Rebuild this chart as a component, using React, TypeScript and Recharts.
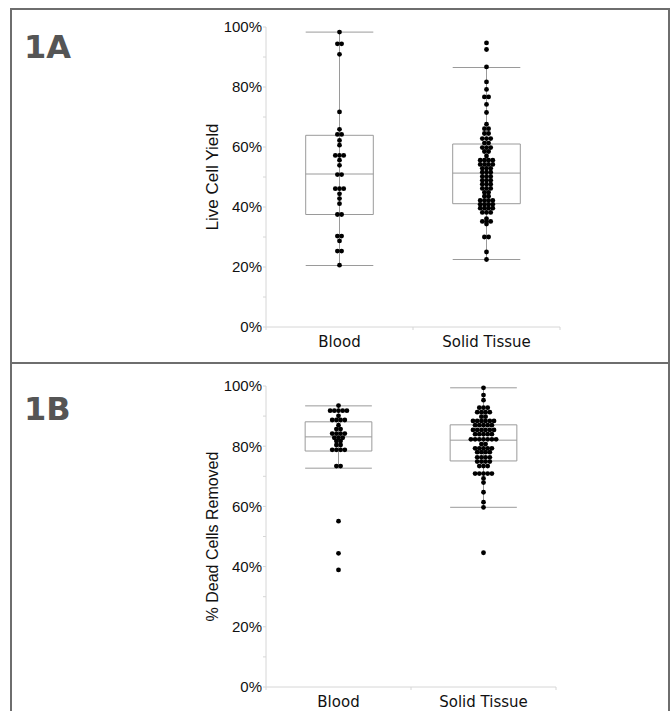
import React from "react";
import {
  ComposedChart,
  ReferenceArea,
  ReferenceLine,
  Scatter,
  XAxis,
  YAxis,
} from "recharts";

const categories = ["Blood", "Solid Tissue"];
const yTicks = [0, 10, 20, 30, 40, 50, 60, 70, 80, 90, 100];

// 1A — live cell yield (%), one entry per dot
const yieldBlood = [
  98.3, 94.4, 94.4, 90.9, 71.7, 65.9, 64.2, 64.2, 62.2, 60.6, 57.2, 57.2, 57.2,
  55.6, 53.9, 50.8, 50.8, 46.1, 46.1, 46.1, 44.4, 42.8, 41.1, 37.5, 37.5, 30.3,
  30.3, 28.7, 25.3, 25.3, 20.6,
];
const yieldTissue = [
  94.7, 92.5, 86.7, 81.7, 79.2, 76.7, 76.7, 74.2, 71.5, 67.6, 66.1, 66.1, 64.5,
  64.5, 62.8, 62.8, 62.8, 61.3, 61.3, 59.8, 59.8, 59.8, 58.5, 58.5, 57.0, 55.6,
  55.6, 55.6, 55.6, 54.2, 54.2, 54.2, 54.2, 52.9, 52.9, 52.9, 51.6, 51.6, 51.6,
  50.2, 50.2, 50.2, 48.9, 48.9, 48.9, 47.6, 47.6, 47.6, 46.2, 46.2, 46.2, 44.9,
  44.9, 43.6, 43.6, 42.2, 42.2, 42.2, 42.2, 40.9, 40.9, 40.9, 40.9, 39.6, 39.6,
  39.6, 39.6, 38.2, 38.2, 38.2, 36.1, 35.2, 35.2, 35.2, 34.3, 30.0, 30.0, 25.0,
  22.5,
];
// [whisker low, q1, median, q3, whisker high]
const yieldBloodBox = [20.5, 37.5, 51.0, 63.9, 98.3];
const yieldTissueBox = [22.5, 41.1, 51.3, 61.0, 86.5];

// 1B — % dead cells removed
const removedBlood = [
  93.5, 91.8, 91.8, 91.8, 91.8, 91.8, 90.1, 88.7, 88.7, 88.7, 88.7, 87.0, 85.7,
  85.7, 84.2, 84.2, 84.2, 84.2, 82.8, 82.8, 82.8, 81.7, 81.7, 80.4, 80.4, 78.8,
  78.8, 78.8, 78.8, 73.4, 73.4, 55.1, 44.4, 38.9,
];
const removedTissue = [
  99.4, 97.0, 95.3, 92.8, 92.8, 92.8, 91.3, 91.3, 91.3, 91.3, 89.8, 89.8, 88.4,
  88.4, 88.4, 88.4, 88.4, 88.4, 87.0, 87.0, 87.0, 87.0, 87.0, 85.4, 85.4, 85.4,
  85.4, 85.4, 85.4, 84.0, 84.0, 84.0, 84.0, 84.0, 82.3, 82.3, 82.3, 82.3, 82.3,
  82.3, 82.3, 80.7, 80.7, 79.3, 79.3, 79.3, 79.3, 79.3, 78.0, 78.0, 78.0, 78.0,
  76.3, 76.3, 76.3, 76.3, 74.9, 74.9, 74.9, 74.9, 73.4, 73.4, 73.4, 70.9, 70.9,
  70.9, 70.9, 70.9, 69.3, 67.9, 64.7, 61.4, 59.7, 44.6,
];
const removedBloodBox = [72.7, 78.4, 83.1, 88.1, 93.4];
const removedTissueBox = [59.7, 75.1, 82.0, 87.1, 99.4];

const GRID = "#d6d6d6";
const BOX = "#9a9a9a";
const FRAME = "#6e6e6e";
const DOT_GAP = 4.2;
const BOX_W = 0.46;

// stack equal values side by side, centred on the category
function swarm(values: number[], pos: number) {
  const counts = new Map<number, number>();
  values.forEach((v) => counts.set(v, (counts.get(v) ?? 0) + 1));
  const seen = new Map<number, number>();
  return values.map((v) => {
    const n = counts.get(v)!;
    const i = seen.get(v) ?? 0;
    seen.set(v, i + 1);
    return { x: pos, y: v, slot: i - (n - 1) / 2 };
  });
}

const SwarmDot = (p: any) => (
  <circle cx={p.cx + p.payload.slot * DOT_GAP} cy={p.cy} r={2.4} fill="#000" />
);

const CatTick = (p: any) => {
  const v = p.payload.value;
  if (Number.isInteger(v)) {
    return <line x1={p.x} x2={p.x} y1={p.y} y2={p.y + 3} stroke={GRID} />;
  }
  return (
    <text
      x={p.x}
      y={p.y + 15}
      dy="0.35em"
      textAnchor="middle"
      fontFamily="DejaVu Sans"
      fontSize={15}
      fill="#111"
    >
      {categories[Math.floor(v)]}
    </text>
  );
};

function boxMarks(stats: number[], pos: number, key: string) {
  const [lo, q1, med, q3, hi] = stats;
  const l = pos - BOX_W / 2;
  const r = pos + BOX_W / 2;
  return [
    <ReferenceLine key={key + "v"} segment={[{ x: pos, y: lo }, { x: pos, y: hi }]} stroke={BOX} />,
    <ReferenceLine key={key + "lo"} segment={[{ x: l, y: lo }, { x: r, y: lo }]} stroke={BOX} />,
    <ReferenceLine key={key + "hi"} segment={[{ x: l, y: hi }, { x: r, y: hi }]} stroke={BOX} />,
    <ReferenceArea key={key + "b"} x1={l} x2={r} y1={q1} y2={q3} fill="none" stroke={BOX} fillOpacity={0} />,
    <ReferenceLine key={key + "m"} segment={[{ x: l, y: med }, { x: r, y: med }]} stroke={BOX} />,
  ];
}

type PanelProps = {
  top: number;
  height: number;
  margin: { top: number; right: number; bottom: number; left: number };
  xHeight: number;
  yLabel: string;
  labelSize: number;
  blood: number[];
  tissue: number[];
  bloodBox: number[];
  tissueBox: number[];
};

function Panel(props: PanelProps) {
  return (
    <div style={{ position: "absolute", left: 0, top: props.top }}>
      <ComposedChart width={600} height={props.height} margin={props.margin}>
        <XAxis
          type="number"
          dataKey="x"
          domain={[0, 2]}
          ticks={[0, 0.5, 1, 1.5, 2]}
          tick={<CatTick />}
          tickLine={false}
          tickSize={0}
          tickMargin={0}
          height={props.xHeight}
          axisLine={{ stroke: GRID }}
        />
        <YAxis
          type="number"
          dataKey="y"
          domain={[0, 100]}
          ticks={yTicks}
          interval={0}
          width={60}
          tickSize={3}
          tickMargin={1}
          tickFormatter={(v: number) => (v % 20 === 0 ? `${v}%` : "")}
          tick={{ fontFamily: "Liberation Sans", fontSize: 15, fill: "#111" }}
          tickLine={{ stroke: GRID }}
          axisLine={{ stroke: GRID }}
          label={{
            value: props.yLabel,
            angle: -90,
            position: "insideLeft",
            offset: 6,
            style: {
              textAnchor: "middle",
              fontFamily: "Liberation Sans",
              fontSize: props.labelSize,
              fill: "#111",
            },
          }}
        />
        {boxMarks(props.bloodBox, 0.5, "b")}
        {boxMarks(props.tissueBox, 1.5, "t")}
        <Scatter data={swarm(props.blood, 0.5)} shape={SwarmDot} isAnimationActive={false} />
        <Scatter data={swarm(props.tissue, 1.5)} shape={SwarmDot} isAnimationActive={false} />
      </ComposedChart>
    </div>
  );
}

const tagStyle: React.CSSProperties = {
  position: "absolute",
  left: 24,
  fontFamily: "DejaVu Sans",
  fontWeight: "bold",
  fontSize: 32,
  lineHeight: "32px",
  color: "#555",
};

export default function App() {
  return (
    <div style={{ position: "relative", width: 672, height: 711, overflow: "hidden", background: "#fff" }}>
      <style>{"body{margin:0}"}</style>
      <div
        style={{
          position: "absolute",
          left: 10,
          top: 8,
          width: 660,
          height: 730,
          border: `2px solid ${FRAME}`,
          boxSizing: "border-box",
        }}
      />
      <div style={{ position: "absolute", left: 10, top: 362, width: 660, height: 2, background: FRAME }} />
      <div style={{ ...tagStyle, top: 31 }}>1A</div>
      <div style={{ ...tagStyle, top: 393 }}>1B</div>
      <Panel
        top={0}
        height={360}
        margin={{ top: 27, right: 40, bottom: 3, left: 206 }}
        xHeight={30}
        yLabel="Live Cell Yield"
        labelSize={17}
        blood={yieldBlood}
        tissue={yieldTissue}
        bloodBox={yieldBloodBox}
        tissueBox={yieldTissueBox}
      />
      <Panel
        top={364}
        height={347}
        margin={{ top: 22, right: 44, bottom: 0, left: 206 }}
        xHeight={24}
        yLabel="% Dead Cells Removed"
        labelSize={16}
        blood={removedBlood}
        tissue={removedTissue}
        bloodBox={removedBloodBox}
        tissueBox={removedTissueBox}
      />
    </div>
  );
}
